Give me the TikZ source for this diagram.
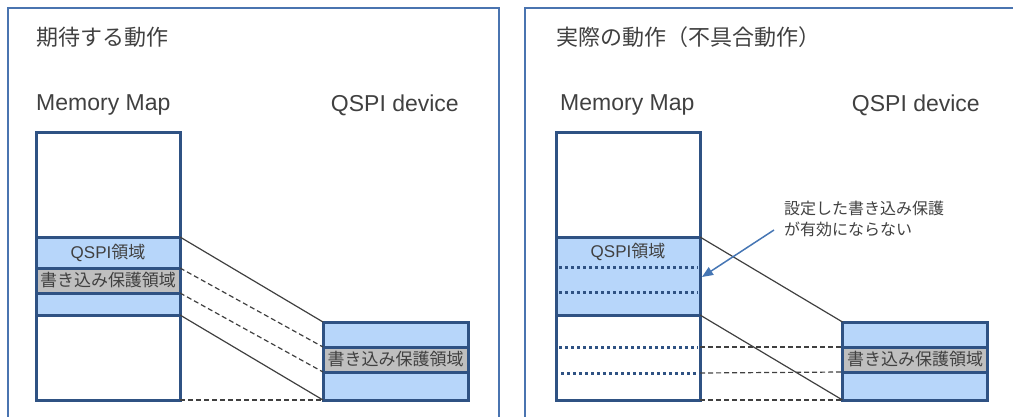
\documentclass[tikz,border=0pt]{standalone}
\usepackage{fontspec}
\setmainfont{Noto Sans CJK JP}
\newfontfamily\latinfont{Liberation Sans}
\usetikzlibrary{arrows.meta,positioning}

\definecolor{framecol}{HTML}{4A74B0}
\definecolor{boxcol}{HTML}{2F5283}
\definecolor{bandcol}{HTML}{B7D6FA}
\definecolor{protcol}{HTML}{BFBFBF}
\definecolor{txtcol}{HTML}{404040}
\definecolor{notecol}{HTML}{4676B4}

\begin{document}
\begin{tikzpicture}[x=1pt,y=-1pt,
  panel/.style={draw=framecol,line width=2.2pt},
  title/.style={anchor=west,text=txtcol,inner sep=0pt,font=\fontsize{22}{26}\selectfont},
  head/.style={text=txtcol,inner sep=0pt,font=\latinfont\fontsize{23}{26}\selectfont},
  cell/.style={draw=boxcol,line width=3pt,inner sep=0pt,outer sep=0pt,
    text=txtcol,font=\fontsize{17}{20}\selectfont},
  mapcell/.style={cell,minimum width=144pt},
  devcell/.style={cell,minimum width=145pt},
  qspifill/.style={fill=bandcol},
  protfill/.style={fill=protcol},
  link/.style={draw=txtcol,line width=1.2pt},
  linkdash/.style={link,dash pattern=on 5pt off 3pt},
  unset/.style={draw=boxcol,line width=3pt,dash pattern=on 3pt off 3pt},
  note/.style={text=txtcol,align=left,inner sep=0pt,font=\fontsize{16}{21}\selectfont},
  notearrow/.style={draw=notecol,line width=1.5pt,-{Triangle[length=11pt,width=9pt]}}]
\useasboundingbox (0,0) rectangle (1013,416);
\clip (0,0) rectangle (1013,416);

% ---- expected behaviour ----
\draw[panel] (8,8) rectangle (499,440);
\node[title] (ttlA) at (36,37) {期待する動作};
\node[head,anchor=west] (mmA) at (36,105) {Memory Map};
\node[head,anchor=east] (qdA) at (459,105) {QSPI device};

\node[mapcell,fill=white,minimum height=268pt] (mapA) at (108,266) {};
\node[mapcell,qspifill,minimum height=31pt] (qspiA) at (108,252.5) {{\latinfont QSPI}領域};
\node[mapcell,protfill,minimum height=25pt] (protA) at (108,280.5) {書き込み保護領域};
\node[mapcell,qspifill,minimum height=22pt] (restA) at (108,304) {};

\node[devcell,qspifill,minimum height=25pt] (dtopA) at (395.5,334.5) {};
\node[devcell,protfill,minimum height=25pt] (dprotA) at (395.5,359.5) {書き込み保護領域};
\node[devcell,qspifill,minimum height=28pt] (dbotA) at (395.5,386) {};

\draw[link] (qspiA.north east) -- (dtopA.north west);
\draw[linkdash] (protA.north east) -- (dprotA.north west);
\draw[linkdash] (protA.south east) -- (dprotA.south west);
\draw[link] (restA.south east) -- (dbotA.south west);
\draw[linkdash] (mapA.south east) -- (dbotA.south west);

% ---- actual behaviour ----
\draw[panel] (525,8) rectangle (1030,440);
\node[title] (ttlB) at (556,37) {実際の動作（不具合動作）};
\node[head,anchor=west] (mmB) at (560,105) {Memory Map};
\node[head,anchor=east] (qdB) at (980,105) {QSPI device};

\node[mapcell,fill=white,minimum height=268pt] (mapB) at (628,266) {};
\node[mapcell,qspifill,minimum height=78pt] (qspiB) at (628,276) {};
\node[text=txtcol,inner sep=0pt,font=\fontsize{17}{20}\selectfont] (qspiBtxt) at (628,252) {{\latinfont QSPI}領域};
\draw[unset] (559,267) -- (698,267);
\draw[unset] (559,292) -- (698,292);
\draw[unset] (559,347) -- (698,347);
\draw[unset] (561,373) -- (698,373);
\coordinate (wpt) at (700,347);
\coordinate (wpb) at (700,373);

\node[devcell,qspifill,minimum height=25pt] (dtopB) at (915,334.5) {};
\node[devcell,protfill,minimum height=25pt] (dprotB) at (915,359.5) {書き込み保護領域};
\node[devcell,qspifill,minimum height=28pt] (dbotB) at (915,386) {};

\draw[link] (qspiB.north east) -- (dtopB.north west);
\draw[link] (qspiB.south east) -- (dbotB.south west);
\draw[linkdash] (wpt) -- (dprotB.north west);
\draw[linkdash] (wpb) -- (dprotB.south west);
\draw[linkdash] (mapB.south east) -- (dbotB.south west);

\node[note,anchor=north west] (noteB) at (784,201) {設定した書き込み保護\\が有効にならない};
\coordinate (noteFrom) at (774,230);
\coordinate (noteTo) at (702,277);
\draw[notearrow] (noteFrom) -- (noteTo);
\end{tikzpicture}
\end{document}
